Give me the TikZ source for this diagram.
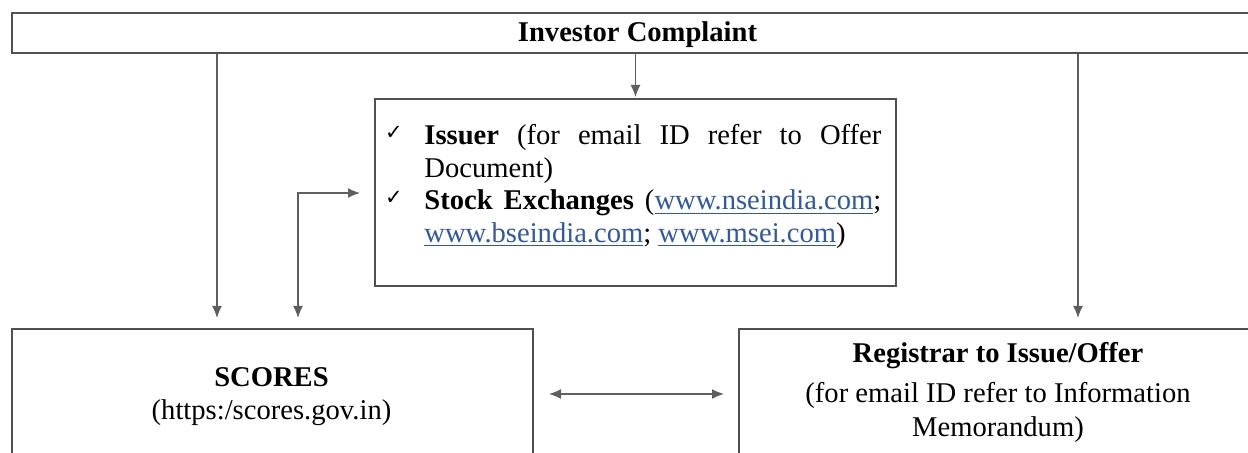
\documentclass[tikz,border=0pt]{standalone}
\usepackage{fontspec}
\setmainfont{Liberation Serif}
\newfontfamily\symfont{DejaVu Sans}
\usetikzlibrary{arrows.meta}
\definecolor{boxline}{RGB}{80,80,80}
\definecolor{conn}{RGB}{95,95,95}
\definecolor{linkblue}{RGB}{48,88,165}
\newcommand\lnk[1]{\textcolor{linkblue}{\underline{#1}}}
\begin{document}
\begin{tikzpicture}[x=0.5pt,y=-0.5pt,
  box/.style={draw=boxline, line width=1pt, anchor=north west, inner sep=0},
  txt/.style={inner sep=0, anchor=base, font=\fontsize{14.3}{16.3}\selectfont},
  item/.style={inner sep=0, anchor=base west, font=\fontsize{14.3}{16.3}\selectfont},
  chk/.style={inner sep=0, anchor=center, font=\symfont\fontsize{10.5}{11}\selectfont},
  arr/.style={draw=conn, line width=0.7pt, -{Latex[length=6pt,width=5pt]}},
  darr/.style={draw=conn, line width=0.7pt, {Latex[length=6pt,width=5pt]}-{Latex[length=6pt,width=5pt]}}]
\clip (0,0) rectangle (1248,453);
% boxes
\node[box, minimum width=625.5pt, minimum height=20pt] (ic) at (11,12) {};
\node[box, minimum width=260.5pt, minimum height=93.5pt] (mb) at (374,98) {};
\node[box, minimum width=260.5pt, minimum height=80pt] (sc) at (11,328) {};
\node[box, minimum width=260pt, minimum height=80pt] (rg) at (738,328) {};
% texts
\node[inner sep=0, font=\fontsize{14.3}{16.3}\selectfont\bfseries] (ict) at ([yshift=-1pt]ic.center) {Investor Complaint};
\node[chk] (ck1) at (394,133) {✓};
\node[item] (it1) at (424,145) {\parbox[t]{228.5pt}{\hyphenpenalty=10000 \tolerance=9999 \textbf{Issuer} (for email ID refer to Offer Document)}};
\node[chk] (ck2) at (394,198) {✓};
\node[item] (it2) at (424,210) {\parbox[t]{228.5pt}{\hyphenpenalty=10000 \tolerance=9999 \textbf{Stock Exchanges} (\lnk{www.nseindia.com}; \lnk{www.bseindia.com}; \lnk{www.msei.com})}};
\node[txt] (sct) at (271.5,387) {\textbf{SCORES}};
\node[txt] (scu) at (271.5,420) {(https:/scores.gov.in)};
\node[txt] (rgt) at (998,363) {\textbf{Registrar to Issue/Offer}};
\node[txt] (rg2) at (998,403) {(for email ID refer to Information};
\node[txt] (rg3) at (998,437) {Memorandum)};
% helper coordinates
\coordinate (xl) at (217,0);
\coordinate (xr) at (1078,0);
\coordinate (xe) at (298,0);
\coordinate (ye) at (0,193);
\coordinate (yh) at (0,394);
% connectors
\draw[arr, shorten >=5pt] (ic.south -| xl) -- (sc.north -| xl);
\draw[arr, shorten >=0.5pt] (ic.south -| mb.north) -- (mb.north);
\draw[arr, shorten >=5pt] (ic.south -| xr) -- (rg.north -| xr);
\draw[darr, shorten <=5pt, shorten >=7pt] (sc.north -| xe) |- (mb.west |- ye);
\draw[darr, shorten <=7.5pt, shorten >=7pt] (sc.east |- yh) -- (rg.west |- yh);
\end{tikzpicture}
\end{document}
